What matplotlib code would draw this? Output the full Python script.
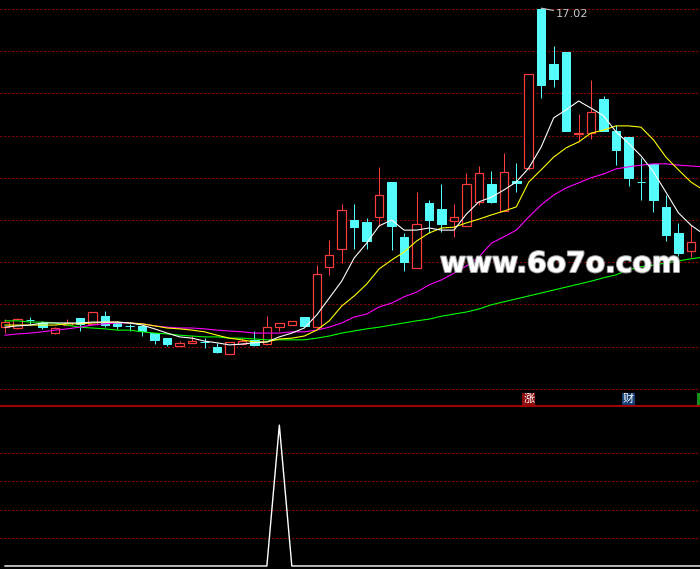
import matplotlib
matplotlib.use('Agg')
import matplotlib.pyplot as plt
from matplotlib.lines import Line2D
from matplotlib.patches import Rectangle
import matplotlib.transforms as mtransforms
import matplotlib.patheffects as pe

# ---------------- data ----------------
opens = [9.46, 9.44, 9.64, 9.56, 9.32, 9.52, 9.68, 9.54, 9.73, 9.56,
         9.49, 9.49, 9.32, 9.20, 9.01, 9.09, 9.11, 8.99, 8.82, 9.06,
         9.16, 9.06, 9.46, 9.51, 9.70, 9.46, 10.89, 11.31, 12.00, 11.95,
         12.07, 12.90, 11.60, 10.86, 12.40, 12.26, 11.98, 11.86, 12.43, 12.85,
         12.21, 12.92, 13.23, 17.00, 15.70, 15.98, 14.03, 14.06, 14.87, 14.11,
         13.97, 12.90, 13.33, 12.31, 11.69, 11.27]
highs = [9.65, 9.68, 9.70, 9.61, 9.46, 9.65, 9.68, 9.82, 9.84, 9.61,
         9.54, 9.49, 9.32, 9.20, 9.13, 9.25, 9.20, 9.09, 9.11, 9.18,
         9.37, 9.73, 9.56, 9.61, 9.70, 10.93, 11.53, 12.38, 12.38, 12.05,
         13.26, 12.90, 11.69, 12.66, 12.47, 12.85, 12.38, 13.11, 13.28, 13.16,
         13.59, 13.35, 15.46, 17.02, 16.12, 15.98, 14.51, 15.32, 14.94, 14.25,
         13.97, 13.47, 13.33, 12.59, 11.93, 11.88]
lows = [9.32, 9.42, 9.54, 9.42, 9.30, 9.51, 9.37, 9.54, 9.46, 9.42,
        9.37, 9.25, 9.06, 9.01, 9.01, 9.09, 8.97, 8.85, 8.82, 9.06,
        9.01, 9.04, 9.37, 9.51, 9.49, 9.44, 10.70, 10.98, 11.31, 11.31,
        11.86, 11.29, 10.79, 10.86, 11.69, 11.72, 11.60, 11.86, 12.36, 12.40,
        12.21, 12.66, 13.18, 14.89, 15.15, 14.11, 13.85, 13.92, 14.11, 13.30,
        12.81, 12.47, 12.19, 11.50, 11.15, 11.12]
closes = [9.58, 9.65, 9.63, 9.46, 9.44, 9.56, 9.54, 9.82, 9.51, 9.49,
          9.48, 9.37, 9.16, 9.06, 9.09, 9.13, 9.10, 8.87, 9.11, 9.13,
          9.04, 9.46, 9.56, 9.61, 9.49, 10.72, 11.17, 12.24, 11.83, 11.50,
          12.59, 11.86, 11.00, 11.91, 12.00, 11.91, 12.07, 12.85, 13.11, 12.43,
          13.14, 12.88, 15.46, 15.20, 15.34, 14.11, 14.05, 14.56, 14.11, 13.66,
          12.99, 12.89, 12.47, 11.64, 11.22, 11.48]

ma5 = [9.46, 9.49, 9.51, 9.56, 9.56, 9.56, 9.56, 9.58, 9.58, 9.58,
       9.56, 9.51, 9.42, 9.32, 9.23, 9.20, 9.13, 9.09, 9.04, 9.06,
       9.09, 9.11, 9.23, 9.32, 9.44, 9.75, 10.15, 10.55, 11.10, 11.45,
       11.86, 12.00, 11.76, 11.76, 11.81, 11.76, 11.76, 12.14, 12.43, 12.54,
       12.71, 12.90, 13.23, 13.73, 14.42, 14.61, 14.82, 14.65, 14.47, 14.09,
       13.82, 13.52, 13.14, 12.66, 12.17, 11.88, 11.67]
ma10 = [9.51, 9.51, 9.51, 9.51, 9.51, 9.54, 9.54, 9.56, 9.58, 9.58,
        9.56, 9.54, 9.49, 9.44, 9.42, 9.39, 9.35, 9.27, 9.20, 9.16,
        9.11, 9.11, 9.18, 9.20, 9.25, 9.39, 9.61, 9.96, 10.20, 10.48,
        10.84, 11.05, 11.24, 11.50, 11.69, 11.81, 11.83, 11.93, 12.02, 12.12,
        12.21, 12.31, 12.90, 13.19, 13.49, 13.71, 13.85, 14.06, 14.13, 14.23,
        14.23, 14.20, 13.90, 13.49, 13.19, 12.90, 12.71]
ma20 = [9.27, 9.30, 9.32, 9.35, 9.39, 9.42, 9.46, 9.51, 9.54, 9.56,
        9.56, 9.54, 9.49, 9.46, 9.44, 9.44, 9.42, 9.39, 9.37, 9.35,
        9.32, 9.32, 9.32, 9.35, 9.35, 9.39, 9.46, 9.56, 9.70, 9.77,
        9.94, 10.03, 10.18, 10.29, 10.46, 10.58, 10.74, 10.91, 11.12, 11.45,
        11.60, 11.76, 12.07, 12.36, 12.59, 12.76, 12.88, 13.00, 13.09, 13.21,
        13.26, 13.30, 13.33, 13.33, 13.30, 13.28, 13.26]
ma60 = [9.61, 9.61, 9.58, 9.58, 9.56, 9.51, 9.46, 9.44, 9.42, 9.39,
        9.39, 9.35, 9.32, 9.30, 9.27, 9.25, 9.23, 9.23, 9.20, 9.20,
        9.18, 9.16, 9.16, 9.16, 9.16, 9.20, 9.25, 9.32, 9.37, 9.42,
        9.46, 9.51, 9.56, 9.61, 9.65, 9.72, 9.77, 9.82, 9.89, 9.99,
        10.06, 10.13, 10.20, 10.27, 10.34, 10.41, 10.48, 10.55, 10.63, 10.70,
        10.82, 10.89, 10.93, 10.98, 11.03, 11.08, 11.12]

indicator = [0, 0, 0, 0, 0, 0, 0, 0, 0, 0,
             0, 0, 0, 0, 0, 0, 0, 0, 0, 0,
             0, 0, 5, 0, 0, 0, 0, 0, 0, 0,
             0, 0, 0, 0, 0, 0, 0, 0, 0, 0,
             0, 0, 0, 0, 0, 0, 0, 0, 0, 0,
             0, 0, 0, 0, 0, 0, 0]

price_grid = [17, 16, 15, 14, 13, 12, 11, 10, 9, 8]
ind_grid = [1, 2, 3, 4]
high_index = 43
high_value = 17.02
high_label = "17.02"
marker_idx = [42, 50]
marker_txt = ["涨", "财"]
marker_col = ["#8c0d0d", "#123e75"]
edge_marker_idx = 56
edge_marker_col = "#17901a"
watermark = "www.6o7o.com"

# ---------------- styling ----------------
RED = '#ff3c3c'
CYAN = '#54fcfc'
GRID = '#c00000'
W, H = 700, 569
px = 0.72  # one pixel in points

fig = plt.figure(figsize=(W / 100, H / 100), dpi=100, facecolor='black')
split = 406
ax = fig.add_axes([0, (H - split) / H, 1, split / H])
axb = fig.add_axes([0, 0, 1, (H - split) / H])
for a in (ax, axb):
    a.set_facecolor('black')
    a.set_axis_off()

x0 = -5 / 12.47
x1 = x0 + W / 12.47
ax.set_xlim(x0, x1)
ax.set_ylim(7.592, 17.213)
axb.set_xlim(x0, x1)
axb.set_ylim(-3 / 28, (566 - 407) / 28)

dots = dict(color=GRID, lw=px, linestyle=(0, (1.6, 2.4)))
for g in price_grid:
    ax.axhline(g, zorder=1, **dots)
for g in ind_grid:
    axb.axhline(g, zorder=1, **dots)

# candles
n = len(opens)
xs = list(range(n))
up_x, up_b, up_h = [], [], []
dn_x, dn_b, dn_h = [], [], []
for i in xs:
    o, h, l, c = opens[i], highs[i], lows[i], closes[i]
    if c >= o:
        up_x.append(i); up_b.append(o); up_h.append(c - o)
        ax.vlines(i, c, h, color=RED, lw=px, zorder=2)
        ax.vlines(i, l, o, color=RED, lw=px, zorder=2)
    else:
        dn_x.append(i); dn_b.append(c); dn_h.append(o - c)
        ax.vlines(i, l, h, color=CYAN, lw=px, zorder=2)
bw = 8.5 / 12.47
ax.bar(up_x, up_h, bottom=up_b, width=bw, facecolor='black', edgecolor=RED,
       linewidth=px * 1.2, zorder=3)
ax.bar(dn_x, dn_h, bottom=dn_b, width=bw, facecolor=CYAN, edgecolor=CYAN,
       linewidth=px, zorder=3)

mx = list(range(len(ma5)))
ax.plot(mx, ma60, color='#00ff00', lw=px * 1.1, zorder=4)
ax.plot(mx, ma20, color='#ff00ff', lw=px * 1.1, zorder=4)
ax.plot(mx, ma10, color='#ffff00', lw=px * 1.1, zorder=4)
ax.plot(mx, ma5, color='#ffffff', lw=px * 1.1, zorder=5)

# high label
ax.annotate(high_label, xy=(high_index, high_value),
            xytext=(15, -6), textcoords='offset pixels',
            color='#c8c8c8', fontsize=8.2, va='center', ha='left',
            arrowprops=dict(arrowstyle='-', color='#c8c8c8', lw=0.8,
                            shrinkA=0, shrinkB=0), zorder=6)

# event markers
bt = mtransforms.blended_transform_factory(ax.transData, ax.transAxes)
for xi, t, col in zip(marker_idx, marker_txt, marker_col):
    ax.text(xi, (split - 399) / split, t, transform=bt, ha='center', va='center',
            color='white', fontsize=8, family=['Noto Sans CJK SC', 'DejaVu Sans'],
            bbox=dict(boxstyle='square,pad=0.1', fc=col, ec='none'),
            zorder=7, clip_on=True)
# marker that is cut off at the right edge (only its box edge is visible)
ax.add_patch(Rectangle((edge_marker_idx - 0.47, (split - 405) / split), 0.94, 12 / split,
                       transform=bt, facecolor=edge_marker_col, edgecolor='none',
                       zorder=7, clip_on=True))

# separator line
fig.add_artist(Line2D([0, 1], [(H - split) / H] * 2, transform=fig.transFigure,
                      color='#d00000', lw=1.1))

# bottom indicator
axb.plot(list(range(len(indicator))), indicator, color='white', lw=px * 1.4, zorder=3)

# watermark
fig.text(561 / W, 1 - 272 / H, watermark, color='white', fontsize=20.3,
         fontweight='bold', ha='center', va='baseline', zorder=10,
         path_effects=[pe.withStroke(linewidth=1.5, foreground='#9a9a9a')])

fig.savefig('out.png', dpi=100, facecolor='black')
